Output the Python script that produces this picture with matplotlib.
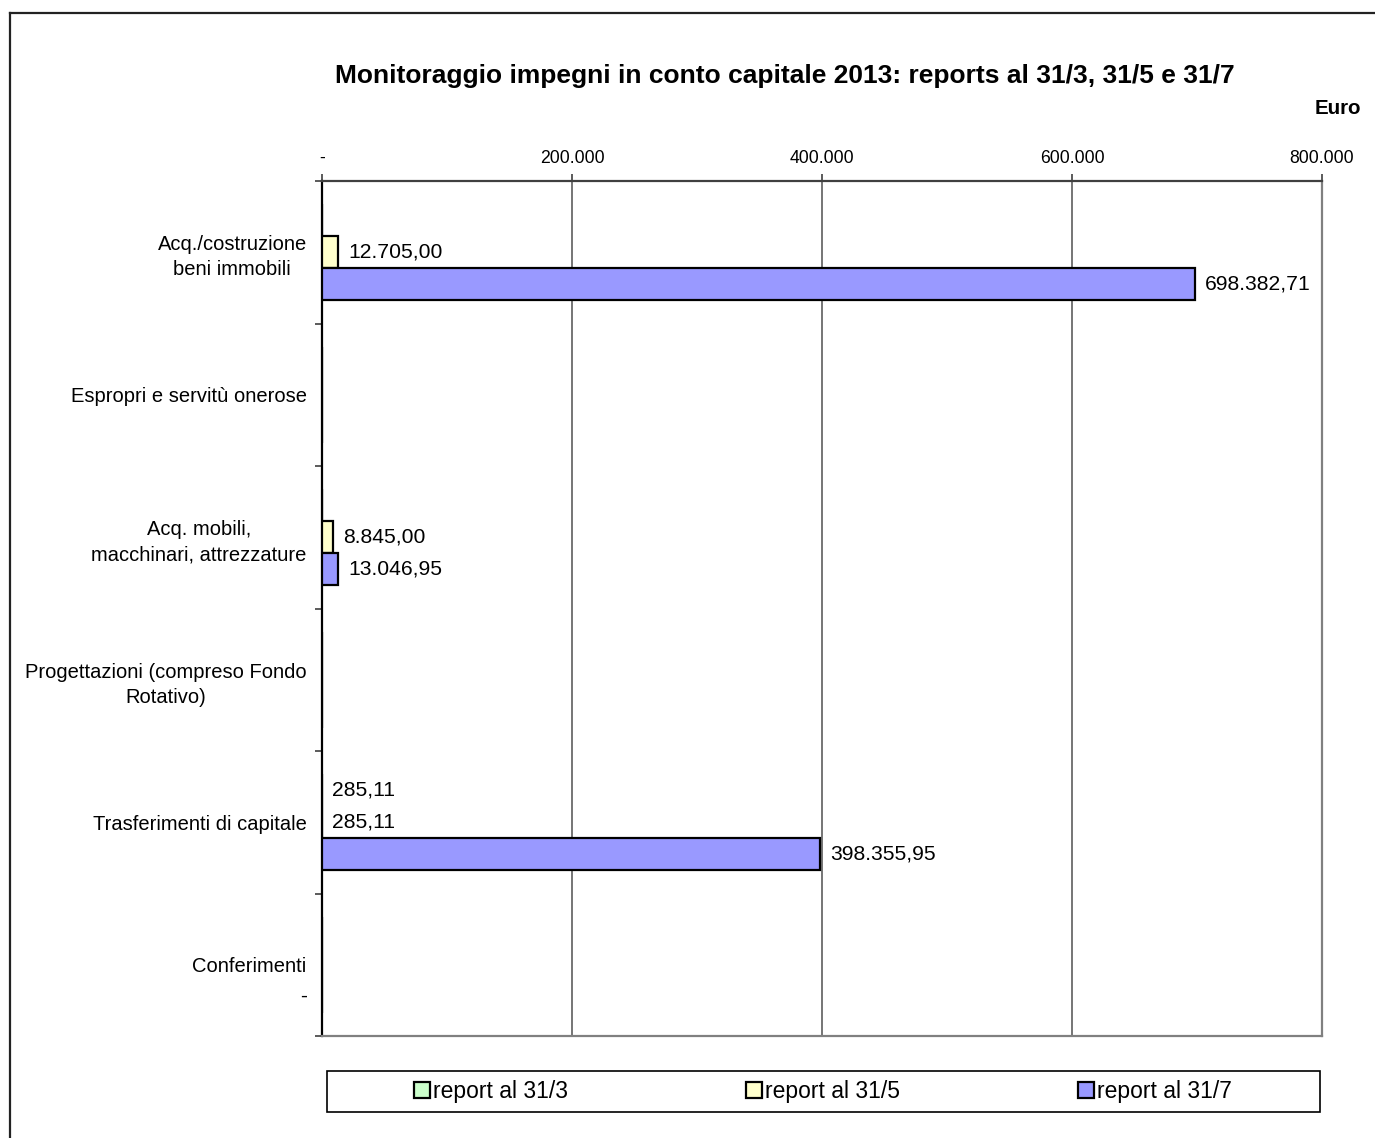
import numpy as np
import matplotlib
matplotlib.use("Agg")
import matplotlib.pyplot as plt
from matplotlib.ticker import FuncFormatter, FixedLocator
from matplotlib.lines import Line2D
from matplotlib.patches import Rectangle

plt.rcParams['font.family'] = ['Liberation Sans', 'DejaVu Sans']

categories = [
    "Acq./costruzione\nbeni immobili",
    "Espropri e servitù onerose",
    "Acq. mobili,\nmacchinari, attrezzature",
    "Progettazioni (compreso Fondo\nRotativo)",
    "Trasferimenti di capitale",
    "Conferimenti",
]
series_names = ["report al 31/3", "report al 31/5", "report al 31/7"]
# nan = empty cell (no label), 0 = zero shown as "-"
report_31_3 = [np.nan, np.nan, np.nan, np.nan, 285.11, np.nan]
report_31_5 = [12705.00, np.nan, 8845.00, np.nan, 285.11, np.nan]
report_31_7 = [698382.71, np.nan, 13046.95, np.nan, 398355.95, 0.0]
colors = ["#CCFFCC", "#FFFFCC", "#9999FF"]
x_ticks = [0, 200000, 400000, 600000, 800000]


def it_fmt(v, dec=2):
    s = f"{v:,.{dec}f}"
    return s.replace(",", "X").replace(".", ",").replace("X", ".")


fig = plt.figure(figsize=(13.75, 11.38), dpi=100)
ax = fig.add_axes([0.2342, 0.0896, 0.7273, 0.7513])

y = np.arange(len(categories))
h = 0.224
offsets = [-h, 0, h]
all_series = [report_31_3, report_31_5, report_31_7]

for vals, off, col in zip(all_series, offsets, colors):
    v = np.nan_to_num(np.array(vals, dtype=float))
    ax.barh(y + off, v, height=h, color=col, edgecolor="black", linewidth=1.6, zorder=3)
    for yi, val in zip(y, vals):
        if np.isnan(val):
            continue
        if val == 0:
            ax.annotate("-", (0, yi + off), xytext=(-15, 0), textcoords="offset pixels",
                        ha="right", va="center", fontsize=15)
        else:
            ax.annotate(it_fmt(val), (val, yi + off), xytext=(10, 0), textcoords="offset pixels",
                        ha="left", va="center", fontsize=15.2)

ax.set_xlim(0, 800000)
ax.set_ylim(len(categories) - 0.5, -0.5)
ax.xaxis.set_major_locator(FixedLocator(x_ticks))
ax.xaxis.set_major_formatter(FuncFormatter(lambda v, p: "-" if v == 0 else it_fmt(v, 0)))
ax.xaxis.tick_top()
ax.tick_params(axis="x", which="major", length=5, width=1.2, pad=5.4, labelsize=12.7, color="#404040")
ax.grid(axis="x", color="#505050", linewidth=1.1, zorder=0)

ax.set_yticks(y)
ax.set_yticklabels(categories, fontsize=14.5, multialignment="center", linespacing=1.4)
ax.tick_params(axis="y", which="major", length=0, pad=11)
ax.set_yticks(np.arange(len(categories) + 1) - 0.5, minor=True)
ax.tick_params(axis="y", which="minor", length=5, width=1.2, color="#404040")

ax.spines["left"].set_color("black")
ax.spines["left"].set_linewidth(1.6)
ax.spines["top"].set_color("#404040")
ax.spines["top"].set_linewidth(1.6)
for s in ["right", "bottom"]:
    ax.spines[s].set_color("#808080")
    ax.spines[s].set_linewidth(1.6)

fig.text(0.571, 0.933, "Monitoraggio impegni in conto capitale 2013: reports al 31/3, 31/5 e 31/7",
         ha="center", va="center", fontsize=19, fontweight="bold")
fig.text(0.990, 0.905, "Euro", ha="right", va="center", fontsize=14.8, fontweight="bold")

# legend
handles = [Rectangle((0, 0), 1, 1, facecolor=c, edgecolor="black", linewidth=1.6) for c in colors]
fig.add_artist(Rectangle((0.2378, 0.0228), 0.7222, 0.0361, transform=fig.transFigure,
                         facecolor="white", edgecolor="black", linewidth=1.2))
fig.legend(handles, series_names, loc="center", bbox_to_anchor=(0.5985, 0.0408), ncol=3,
           frameon=False, fontsize=16.5, handlelength=0.7, handleheight=0.7,
           handletextpad=0.1, columnspacing=7.8)

# outer border
fig.add_artist(Line2D([0.0073, 1.0], [0.9886, 0.9886], transform=fig.transFigure, color="#222222", linewidth=1.6))
fig.add_artist(Line2D([0.0073, 0.0073], [0.0, 0.9886], transform=fig.transFigure, color="#222222", linewidth=1.6))

fig.savefig("out.png", dpi=100)
